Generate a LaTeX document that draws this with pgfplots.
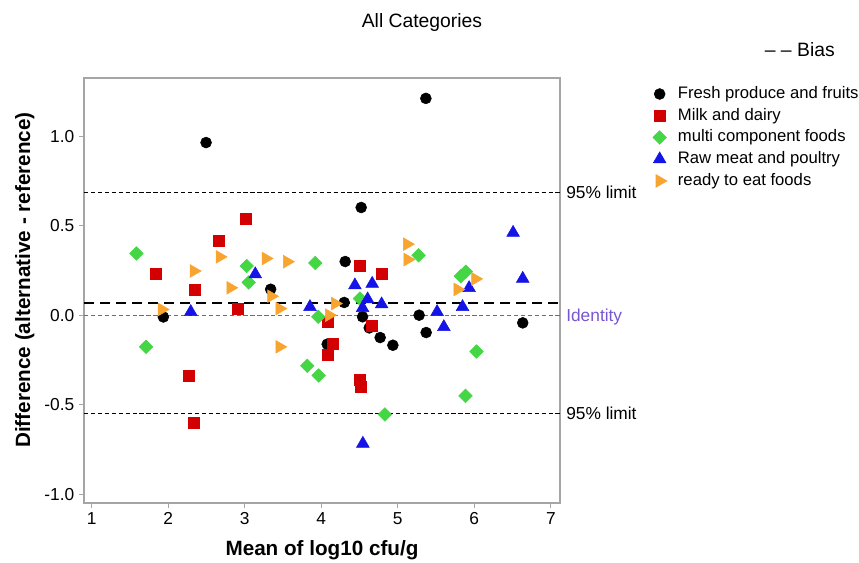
\documentclass[border=0pt]{standalone}
\usepackage{fontspec}
\setmainfont{Liberation Sans}
\usepackage{pgfplots}
\pgfplotsset{compat=1.18}
\definecolor{cred}{RGB}{210,0,0}
\definecolor{cgreen}{RGB}{68,214,68}
\definecolor{cblue}{RGB}{20,20,230}
\definecolor{corange}{RGB}{248,164,48}
\definecolor{cpurple}{RGB}{120,86,210}
\definecolor{cframe}{RGB}{165,165,165}
\begin{document}
\begin{tikzpicture}
\useasboundingbox (0,0) rectangle (644.25pt,422.25pt);
\begin{axis}[
  at={(63pt,45pt)}, anchor=south west,
  scale only axis, width=357pt, height=318.75pt,
  xmin=0.9, xmax=7.12, ymin=-1.05, ymax=1.326,
  xtick={1,2,3,4,5,6,7},
  ytick={-1,-0.5,0,0.5,1},
  yticklabels={-1.0,-0.5,0.0,0.5,1.0},
  tick pos=left, tick align=outside, major tick length=3.75pt,
  axis line style={draw=cframe, line width=1.1pt},
  every tick/.style={draw=cframe, line width=0.8pt},
  ticklabel style={font=\fontsize{13}{15}\selectfont, text=black},
  /pgf/number format/assume math mode=true,
  clip mode=individual,
  legend style={at={(rel axis cs:1.192,0.9835)}, anchor=north west, draw=none, fill=none,
     inner sep=0pt, outer sep=0pt, font=\fontsize{12.5}{15}\selectfont, row sep=2.8pt,
     nodes={inner sep=1pt, text height=9pt, text depth=2.5pt}},
  legend cell align=left,
  mk/.style={only marks, legend image code/.code={\draw[##1] plot coordinates {(6pt,0pt)}; \path (0pt,0pt) (18.5pt,0pt);}},
]
% reference lines
\addplot[forget plot, black, line width=0.95pt, dash pattern=on 3.2pt off 2pt] coordinates {(0.9,0.686) (7.12,0.686)};
\addplot[forget plot, black, line width=0.95pt, dash pattern=on 3.2pt off 2pt] coordinates {(0.9,-0.549) (7.12,-0.549)};
\addplot[forget plot, cpurple, line width=0.95pt, dash pattern=on 3.2pt off 2pt] coordinates {(0.9,0) (7.12,0)};
\addplot[forget plot, black, line width=1.1pt, dash pattern=on 7.5pt off 4.5pt] coordinates {(0.9,0.068) (7.12,0.068)};

\addplot[mk, mark=*, mark size=4.1pt, color=black] coordinates {
(2.495,0.965) (5.367,1.212) (4.522,0.602) (4.313,0.300) (3.339,0.145) (4.300,0.071)
(1.937,-0.010) (4.078,-0.162) (4.540,-0.009) (4.627,-0.071) (4.770,-0.125) (4.936,-0.168)
(5.279,0.000) (5.371,-0.097) (6.633,-0.043)};
\addlegendentry{Fresh produce and fruits}

\addplot[mk, mark=square*, mark size=4.1pt, color=cred] coordinates {
(1.833,0.233) (2.351,0.141) (2.661,0.415) (3.013,0.540) (2.909,0.034) (2.269,-0.337)
(2.329,-0.602) (4.091,-0.037) (4.149,-0.160) (4.088,-0.222) (4.501,0.275) (4.792,0.229)
(4.666,-0.061) (4.501,-0.361) (4.522,-0.398)};
\addlegendentry{Milk and dairy}

\addplot[mk, mark=square*, mark size=3.6pt, color=cgreen, mark options={rotate=45}] coordinates {
(1.585,0.345) (1.711,-0.177) (3.026,0.275) (3.052,0.183) (3.922,0.292) (3.961,-0.009)
(3.817,-0.283) (3.966,-0.337) (4.505,0.093) (4.832,-0.555) (5.272,0.335) (5.824,0.218)
(5.889,0.243) (6.029,-0.203) (5.885,-0.451)};
\addlegendentry{multi component foods}

\addplot[mk, mark=triangle*, mark size=5.5pt, color=cblue] coordinates {
(2.295,0.018) (3.138,0.229) (3.853,0.046) (4.440,0.167) (4.666,0.176) (4.606,0.089)
(4.540,0.040) (4.789,0.061) (5.514,0.018) (5.602,-0.066) (5.846,0.046) (5.932,0.152)
(6.633,0.204) (6.507,0.461) (4.544,-0.718)};
\addlegendentry{Raw meat and poultry}

\addplot[mk, mark=triangle*, mark size=5.5pt, color=corange, mark options={rotate=-90}] coordinates {
(1.917,0.032) (2.335,0.247) (2.674,0.326) (2.814,0.153) (3.275,0.317) (3.346,0.106)
(3.454,0.037) (3.454,-0.177) (3.554,0.299) (4.103,0.000) (4.181,0.065) (5.121,0.397)
(5.129,0.311) (5.782,0.144) (6.013,0.203)};
\addlegendentry{ready to eat foods}

\node[anchor=west, inner sep=0pt, font=\fontsize{13}{15}\selectfont] at (axis cs:7.12,0.686) [xshift=4.5pt] {95\% limit};
\node[anchor=west, inner sep=0pt, font=\fontsize{13}{15}\selectfont] at (axis cs:7.12,-0.549) [xshift=4.5pt] {95\% limit};
\node[anchor=base west, inner sep=0pt, text=cpurple, font=\fontsize{13}{15}\selectfont] at (axis cs:7.12,0) [xshift=4.5pt, yshift=-4.6pt] {Identity};
\end{axis}
\node[anchor=base, inner sep=0pt, font=\fontsize{14.5}{17}\selectfont] at (316.5pt,401.25pt) {All Categories};
\node[anchor=base east, inner sep=0pt, font=\fontsize{14.5}{17}\selectfont] at (626.25pt,379.7pt) {\textendash\ \textendash\ Bias};
\node[anchor=base, inner sep=0pt, font=\bfseries\fontsize{15.5}{18}\selectfont] at (241.5pt,5.25pt) {Mean of log10 cfu/g};
\node[anchor=base, rotate=90, inner sep=0pt, font=\bfseries\fontsize{15.5}{18}\selectfont] at (22.5pt,212.25pt) {Difference (alternative - reference)};
\end{tikzpicture}
\end{document}
